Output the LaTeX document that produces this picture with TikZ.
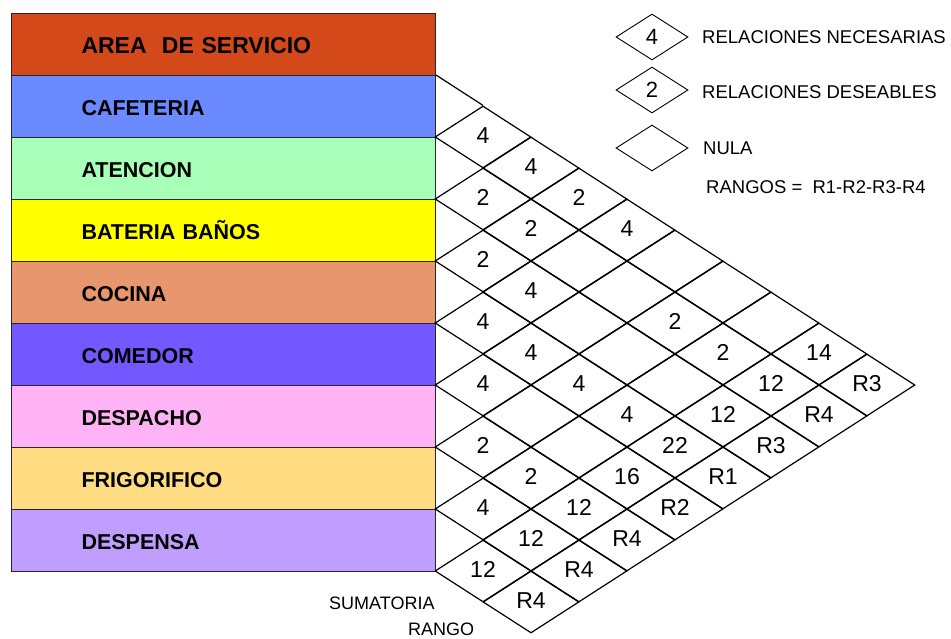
\documentclass[tikz,border=0pt]{standalone}
\usepackage{fontspec}
\setmainfont{Liberation Sans}
\usetikzlibrary{shapes.geometric}

\definecolor{areacol}{HTML}{D4491A}
\definecolor{cafecol}{HTML}{6B8AFF}
\definecolor{atencol}{HTML}{A8FFB8}
\definecolor{banocol}{HTML}{FFFF00}
\definecolor{cocicol}{HTML}{E8966E}
\definecolor{comecol}{HTML}{7358FF}
\definecolor{despcol}{HTML}{FFB3F5}
\definecolor{frigcol}{HTML}{FFDC82}
\definecolor{pensacol}{HTML}{C09EFF}

\tikzset{
  rowbox/.style={draw=black!85, line width=1pt, anchor=north west,
    minimum width=424pt, minimum height=62pt, text width=284pt,
    inner xsep=70pt, inner ysep=0pt, align=left,
    text height=18pt, text depth=0pt,
    font=\fontsize{21.5}{24}\selectfont\bfseries},
  cell/.style={diamond, draw, line width=1.2pt, minimum width=96pt,
    minimum height=62pt, inner sep=0pt},
  val/.style={font=\fontsize{23}{25}\selectfont, inner sep=0pt, yshift=1.5pt},
  keybox/.style={diamond, draw, line width=0.9pt, minimum width=72pt,
    minimum height=46pt, inner sep=0pt, font=\fontsize{22}{24}\selectfont},
  keytext/.style={anchor=west, inner sep=0pt, font=\fontsize{18.5}{20}\selectfont}
}

\begin{document}
\begin{tikzpicture}[x=1pt, y=-1pt]
    \useasboundingbox (0,0) rectangle (951,639);
    % Area column
    \node[rowbox, fill=areacol, font=\fontsize{23}{26}\selectfont\bfseries] (area) at (11,13) {AREA\ \ DE SERVICIO};
    \node[rowbox, fill=cafecol] (cafeteria) at (11,75) {CAFETERIA};
    \node[rowbox, fill=atencol] (atencion) at (11,137) {ATENCION};
    \node[rowbox, fill=banocol] (banos) at (11,199) {BATERIA BAÑOS};
    \node[rowbox, fill=cocicol] (cocina) at (11,261) {COCINA};
    \node[rowbox, fill=comecol] (comedor) at (11,323) {COMEDOR};
    \node[rowbox, fill=despcol] (despacho) at (11,385) {DESPACHO};
    \node[rowbox, fill=frigcol] (frigorifico) at (11,447) {FRIGORIFICO};
    \node[rowbox, fill=pensacol] (despensa) at (11,509) {DESPENSA};
    % Relation grid
    \foreach \i in {1,...,8}{
      \pgfmathtruncatemacro{\jfrom}{\i+1}
      \foreach \j in {\jfrom,...,10}{
        \node[cell] (c\i-\j) at ({435+48*(\j-\i)}, {75+31*(\i+\j-1)}) {};
      }
    }
    \draw[line width=1.2pt] (cafeteria.north east) -- (c1-2.north);
    % Grid values
    \foreach \i/\j/\v in {1/2/4, 1/3/4, 1/4/2, 1/5/4, 1/9/14, 1/10/R3,
        2/3/2, 2/4/2, 2/7/2, 2/8/2, 2/9/12, 2/10/R4,
        3/4/2, 3/5/4, 3/9/12, 3/10/R3,
        4/5/4, 4/6/4, 4/7/4, 4/8/4, 4/9/22, 4/10/R1,
        5/6/4, 5/9/16, 5/10/R2,
        6/7/2, 6/8/2, 6/9/12, 6/10/R4,
        7/8/4, 7/9/12, 7/10/R4,
        8/9/12, 8/10/R4}
      \node[val] (v\i-\j) at (c\i-\j) {\v};
    % Bottom labels
    \node[keytext, font=\fontsize{18}{20}\selectfont] (suma) at (329,603) {SUMATORIA};
    \node[keytext, font=\fontsize{18}{20}\selectfont] (rango) at (408,629) {RANGO};
    % Legend
    \node[keybox] (key4) at (652,37) {4};
    \node[keybox] (key2) at (652,90) {2};
    \node[keybox] (key0) at (652,148) {};
    \node[keytext] (necesarias) at (702,37) {RELACIONES NECESARIAS};
    \node[keytext] (deseables) at (702,92) {RELACIONES DESEABLES};
    \node[keytext] (nula) at (703,148) {NULA};
    \node[keytext] (rangos) at (706,187) {RANGOS =\ \ R1-R2-R3-R4};
  \end{tikzpicture}
\end{document}
